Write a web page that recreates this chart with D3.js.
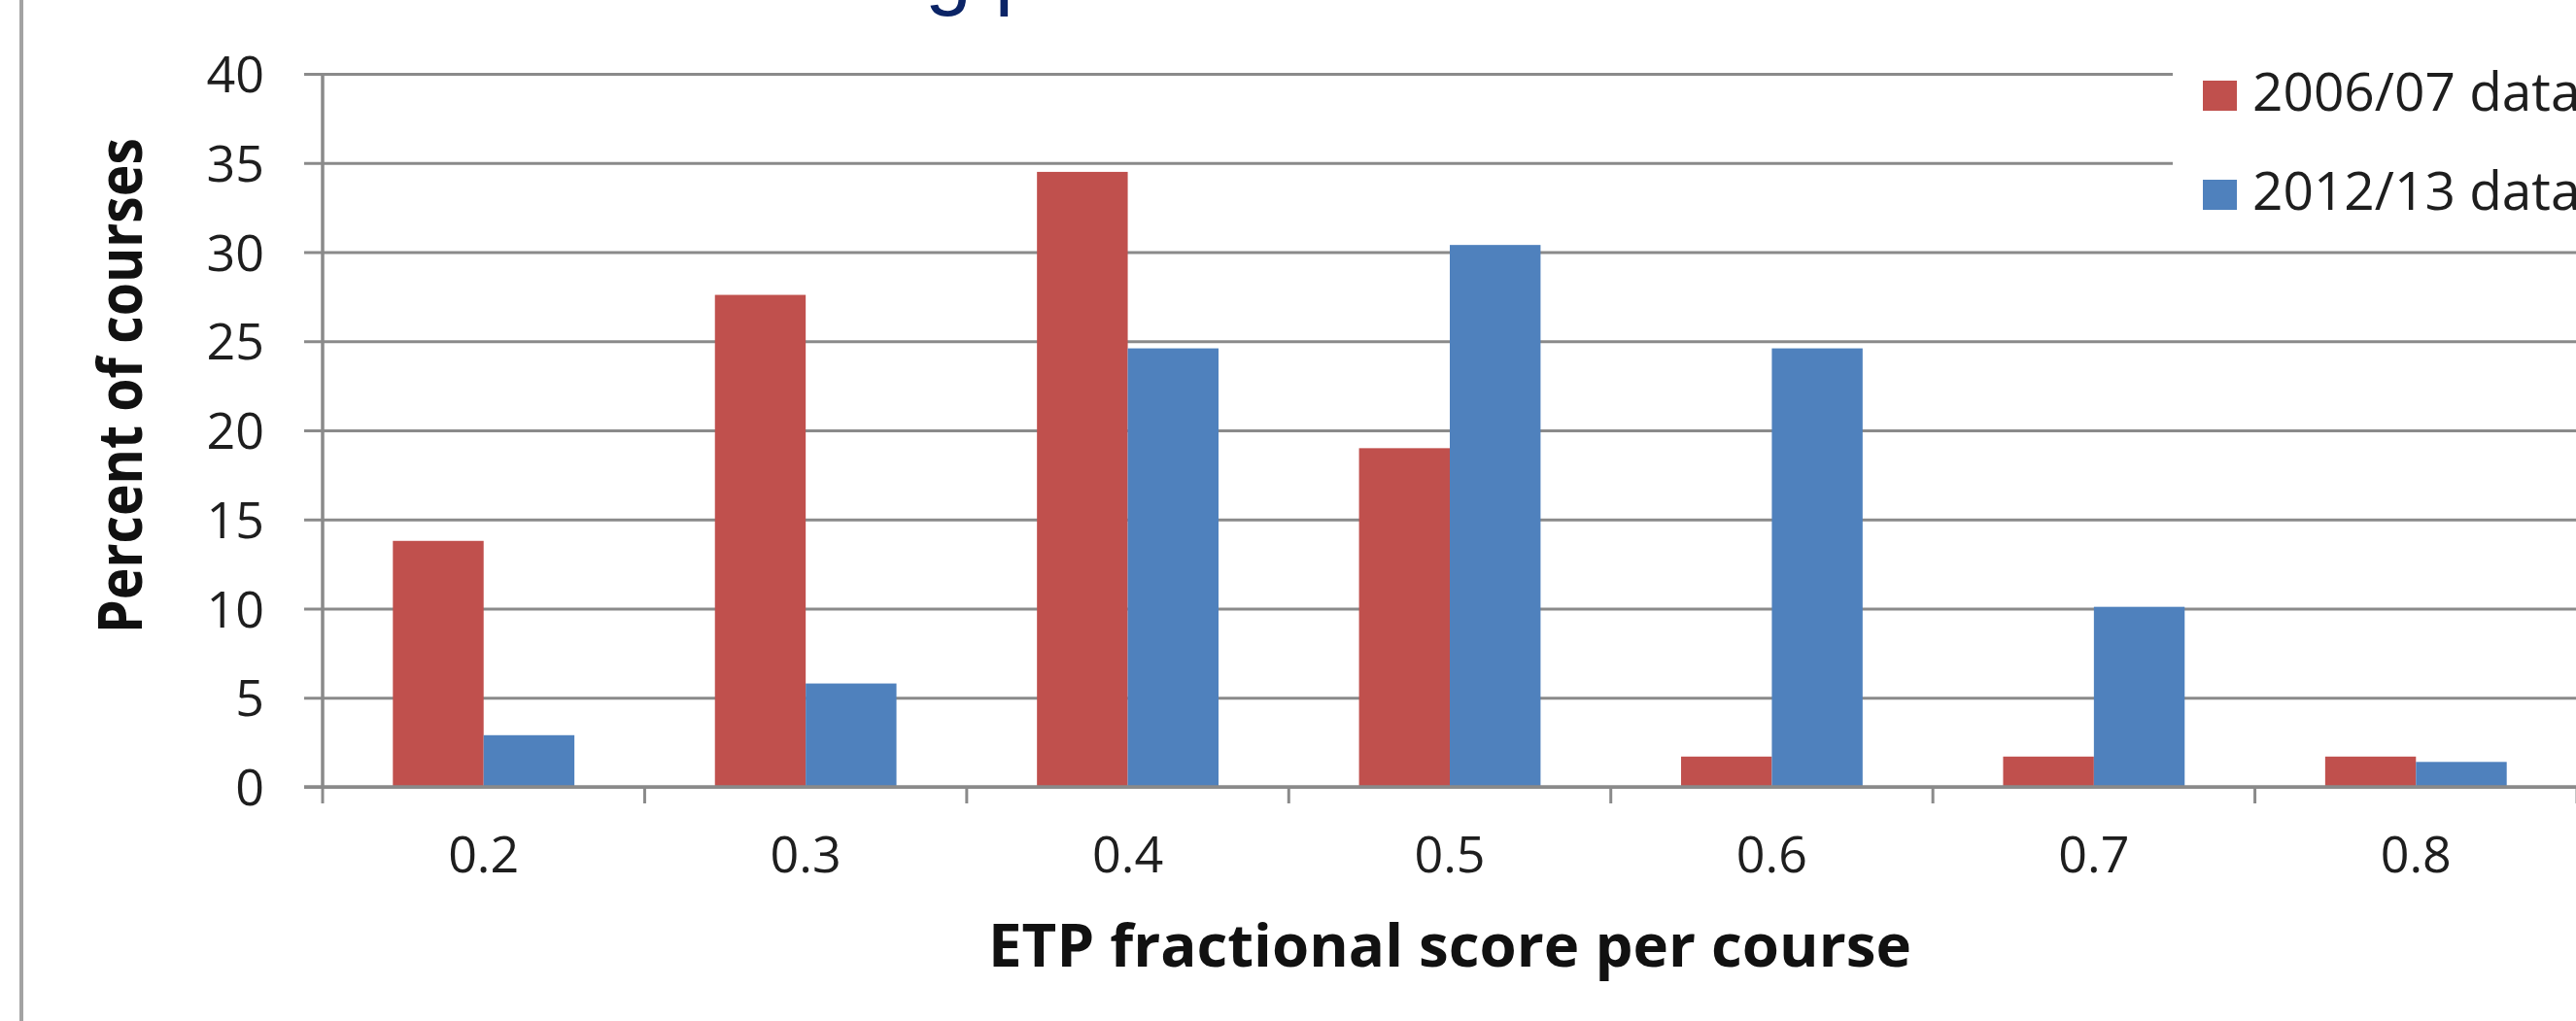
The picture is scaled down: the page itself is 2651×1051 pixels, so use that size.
<!DOCTYPE html>
<html>
<head>
<meta charset="utf-8">
<script src="https://cdn.jsdelivr.net/npm/d3@7"></script>
<style>
  html, body { margin: 0; padding: 0; background: #fff; overflow: hidden; }
  svg { display: block; }
</style>
</head>
<body>
<svg id="chart" width="2651" height="1051"></svg>
<script>
// ---- data ----
const categories = ["0.2", "0.3", "0.4", "0.5", "0.6", "0.7", "0.8"];
const seriesNames = ["2006/07 data", "2012/13 data"];
const data0607 = [13.8, 27.6, 34.5, 19.0, 1.7, 1.7, 1.7];
const data1213 = [2.9, 5.8, 24.6, 30.4, 24.6, 10.1, 1.4];
const yTicks = [0, 5, 10, 15, 20, 25, 30, 35, 40];
const colors = ["#C0504D", "#4F81BD"];
const xTitle = "ETP fractional score per course";
const yTitle = "Percent of courses";
const titleFragment = "g p";

// ---- layout ----
const W = 2651, H = 1051;
const plot = { left: 332, right: 2652, top: 76, bottom: 810 };
const gridCol = "#8a8a8a";
const font = "'Open Sans', 'DejaVu Sans', sans-serif";

const svg = d3.select("#chart");

// left frame line
svg.append("line")
  .attr("x1", 22).attr("x2", 22).attr("y1", 0).attr("y2", H)
  .attr("stroke", "#a3a3a3").attr("stroke-width", 4);

// cut-off title fragment (only the descenders remain visible)
svg.append("text")
  .attr("x", 952).attr("y", -1)
  .attr("font-family", "'Liberation Sans', Arial, sans-serif")
  .attr("font-size", 86)
  .attr("fill", "#0b2466")
  .text(titleFragment);

const x = d3.scaleBand().domain(categories).range([plot.left, plot.right]).padding(0);
const xs = d3.scaleBand().domain(seriesNames).range([0, x.bandwidth()])
  .paddingInner(0).paddingOuter(0.774);
const y = d3.scaleLinear().domain([0, 40]).range([plot.bottom, plot.top]);

// y axis (ticks + gridlines)
const yAxis = d3.axisLeft(y).tickValues(yTicks).tickSize(0).tickPadding(60);
const gy = svg.append("g").attr("transform", `translate(${plot.left},0)`).call(yAxis);
gy.select(".domain").remove();
gy.selectAll(".tick text")
  .attr("font-family", font).attr("font-size", 52).attr("fill", "#1e1e1e")
  .attr("dy", "0.36em");
gy.selectAll(".tick").append("line")
  .attr("x1", -19).attr("x2", plot.right - plot.left)
  .attr("stroke", gridCol).attr("stroke-width", 3);

// y axis line
svg.append("line")
  .attr("x1", plot.left).attr("x2", plot.left)
  .attr("y1", plot.top).attr("y2", plot.bottom)
  .attr("stroke", gridCol).attr("stroke-width", 3.5);

// bars
const series = [data0607, data1213];
series.forEach((vals, si) => {
  svg.append("g").selectAll("rect")
    .data(vals)
    .join("rect")
    .attr("x", (d, i) => x(categories[i]) + xs(seriesNames[si]))
    .attr("width", xs.bandwidth())
    .attr("y", d => y(d))
    .attr("height", d => y(0) - y(d))
    .attr("fill", colors[si]);
});

// x axis: baseline + boundary ticks
svg.append("line")
  .attr("x1", plot.left - 19).attr("x2", plot.right)
  .attr("y1", y(0)).attr("y2", y(0))
  .attr("stroke", gridCol).attr("stroke-width", 3.5);
const bounds = categories.map(c => x(c)).concat([x(categories[categories.length - 1]) + x.bandwidth()]);
svg.append("g").selectAll("line")
  .data(bounds)
  .join("line")
  .attr("x1", d => d).attr("x2", d => d)
  .attr("y1", y(0)).attr("y2", y(0) + 17)
  .attr("stroke", gridCol).attr("stroke-width", 3);

// x tick labels
svg.append("g").selectAll("text")
  .data(categories)
  .join("text")
  .attr("x", d => x(d) + x.bandwidth() / 2)
  .attr("y", 898)
  .attr("text-anchor", "middle")
  .attr("font-family", font).attr("font-size", 52).attr("fill", "#1e1e1e")
  .text(d => d);

// axis titles
svg.append("text")
  .attr("x", (plot.left + plot.right) / 2).attr("y", 995)
  .attr("text-anchor", "middle")
  .attr("font-family", font).attr("font-weight", "bold")
  .attr("font-size", 60).attr("fill", "#111")
  .attr("textLength", 950).attr("lengthAdjust", "spacingAndGlyphs")
  .text(xTitle);

svg.append("text")
  .attr("transform", "translate(146,397) rotate(-90)")
  .attr("text-anchor", "middle")
  .attr("font-family", font).attr("font-weight", "bold")
  .attr("font-size", 62).attr("fill", "#111")
  .attr("textLength", 510).attr("lengthAdjust", "spacingAndGlyphs")
  .text(yTitle);

// legend
const lg = svg.append("g");
lg.append("rect")
  .attr("x", 2236).attr("y", 45).attr("width", W - 2236).attr("height", 195)
  .attr("fill", "#fff");
seriesNames.forEach((name, i) => {
  const by = 114 + i * 102;
  lg.append("rect")
    .attr("x", 2267).attr("y", by - 31).attr("width", 35).attr("height", 31)
    .attr("fill", colors[i]);
  lg.append("text")
    .attr("x", 2318).attr("y", by)
    .attr("font-family", font).attr("font-size", 55).attr("fill", "#1e1e1e")
    .text(name);
});
</script>
</body>
</html>
